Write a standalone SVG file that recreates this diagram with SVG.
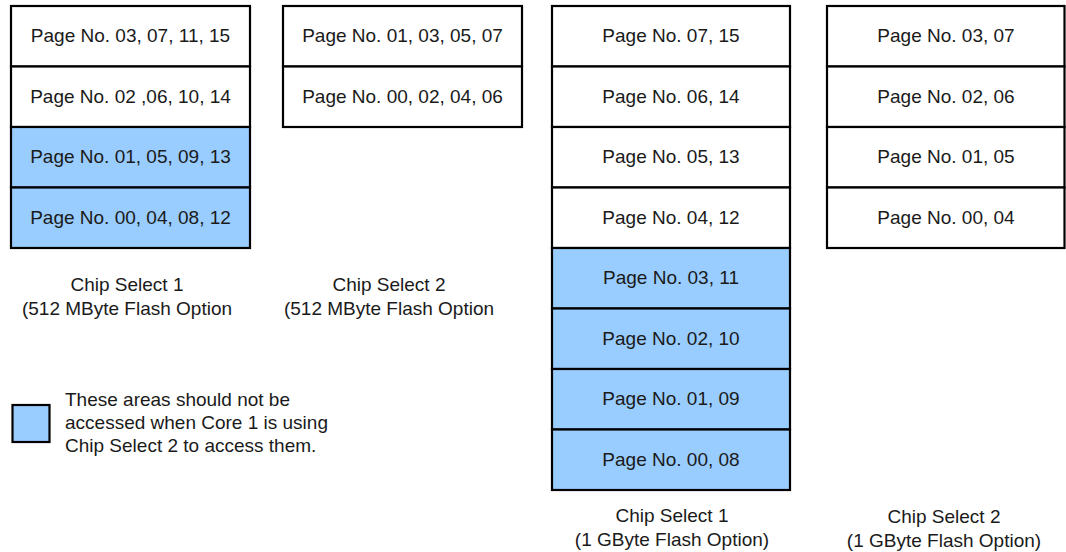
<svg xmlns="http://www.w3.org/2000/svg" width="1066" height="552" viewBox="0 0 1066 552">
<style>
.c{fill:#ffffff;stroke:#000;stroke-width:2.2}
.b{fill:#99ccff;stroke:#000;stroke-width:2.2}
text{font-family:"Liberation Sans",Arial,sans-serif;font-size:19px;fill:#1a1a1a}
.m{text-anchor:middle}
</style>
<rect width="1066" height="552" fill="#ffffff"/>
<g id="cs1-512">
<g id="n1a"><rect class="c" x="11" y="6" width="239" height="60.5"/><text class="m" x="130.5" y="42">Page No. 03, 07, 11, 15</text></g>
<g id="n1b"><rect class="c" x="11" y="66.5" width="239" height="60.5"/><text class="m" x="130.5" y="103">Page No. 02 ,06, 10, 14</text></g>
<g id="n1c"><rect class="b" x="11" y="127" width="239" height="60.5"/><text class="m" x="130.5" y="163">Page No. 01, 05, 09, 13</text></g>
<g id="n1d"><rect class="b" x="11" y="187.5" width="239" height="60.5"/><text class="m" x="130.5" y="224">Page No. 00, 04, 08, 12</text></g>
<text class="m" x="127" y="291">Chip Select 1</text>
<text class="m" x="127" y="315">(512 MByte Flash Option</text>
</g>
<g id="cs2-512">
<g id="n2a"><rect class="c" x="283" y="6" width="239" height="60.5"/><text class="m" x="402.5" y="42">Page No. 01, 03, 05, 07</text></g>
<g id="n2b"><rect class="c" x="283" y="66.5" width="239" height="60.5"/><text class="m" x="402.5" y="103">Page No. 00, 02, 04, 06</text></g>
<text class="m" x="389" y="291">Chip Select 2</text>
<text class="m" x="389" y="315">(512 MByte Flash Option</text>
</g>
<g id="cs1-1g">
<g id="n3a"><rect class="c" x="552" y="6" width="238" height="60.5"/><text class="m" x="671" y="42">Page No. 07, 15</text></g>
<g id="n3b"><rect class="c" x="552" y="66.5" width="238" height="60.5"/><text class="m" x="671" y="103">Page No. 06, 14</text></g>
<g id="n3c"><rect class="c" x="552" y="127" width="238" height="60.5"/><text class="m" x="671" y="163">Page No. 05, 13</text></g>
<g id="n3d"><rect class="c" x="552" y="187.5" width="238" height="60.5"/><text class="m" x="671" y="224">Page No. 04, 12</text></g>
<g id="n3e"><rect class="b" x="552" y="248" width="238" height="60.5"/><text class="m" x="671" y="284">Page No. 03, 11</text></g>
<g id="n3f"><rect class="b" x="552" y="308.5" width="238" height="60.5"/><text class="m" x="671" y="345">Page No. 02, 10</text></g>
<g id="n3g"><rect class="b" x="552" y="369" width="238" height="60.5"/><text class="m" x="671" y="405">Page No. 01, 09</text></g>
<g id="n3h"><rect class="b" x="552" y="429.5" width="238" height="60.5"/><text class="m" x="671" y="466">Page No. 00, 08</text></g>
<text class="m" x="672" y="522">Chip Select 1</text>
<text class="m" x="672" y="546">(1 GByte Flash Option)</text>
</g>
<g id="cs2-1g">
<g id="n4a"><rect class="c" x="827" y="6" width="237.5" height="60.5"/><text class="m" x="946" y="42">Page No. 03, 07</text></g>
<g id="n4b"><rect class="c" x="827" y="66.5" width="237.5" height="60.5"/><text class="m" x="946" y="103">Page No. 02, 06</text></g>
<g id="n4c"><rect class="c" x="827" y="127" width="237.5" height="60.5"/><text class="m" x="946" y="163">Page No. 01, 05</text></g>
<g id="n4d"><rect class="c" x="827" y="187.5" width="237.5" height="60.5"/><text class="m" x="946" y="224">Page No. 00, 04</text></g>
<text class="m" x="944" y="523">Chip Select 2</text>
<text class="m" x="944" y="547">(1 GByte Flash Option)</text>
</g>
<g id="legend">
<rect class="b" x="12.5" y="405" width="37" height="37"/>
<text x="65" y="406">These areas should not be</text>
<text x="65" y="429">accessed when Core 1 is using</text>
<text x="65" y="452">Chip Select 2 to access them.</text>
</g>
<g id="connectors"></g>
</svg>
